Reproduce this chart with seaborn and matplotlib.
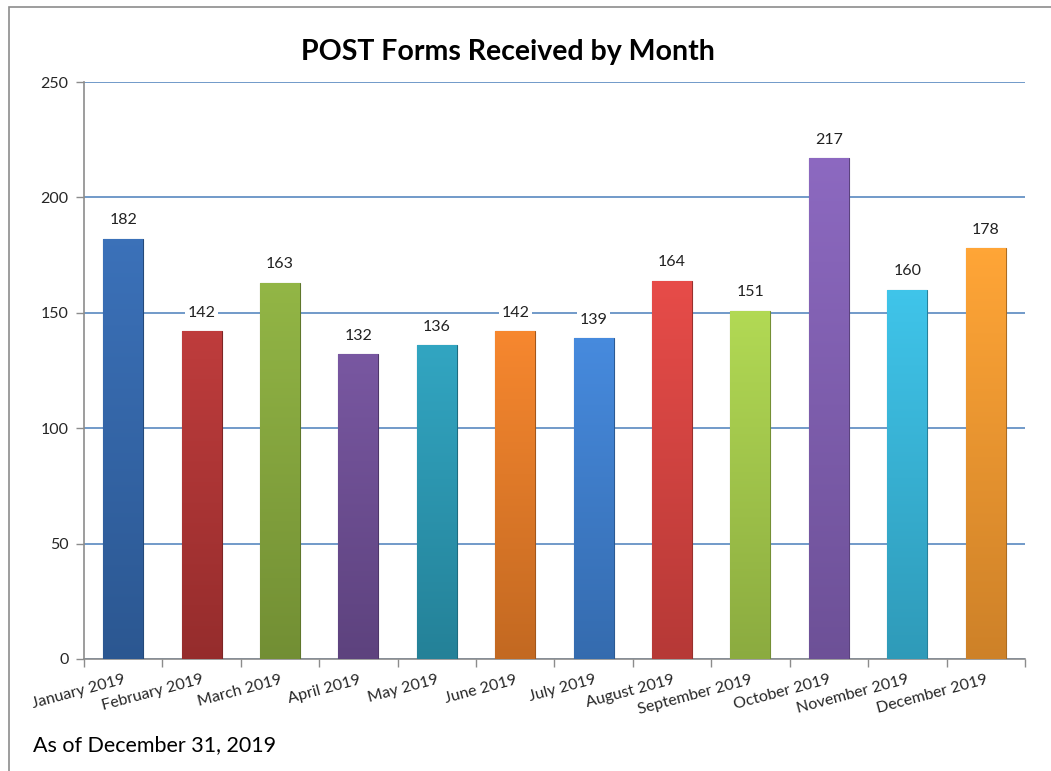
import numpy as np
import pandas as pd
import seaborn as sns
import matplotlib.pyplot as plt
import matplotlib.colors as mcolors
from matplotlib.patches import Rectangle

months = ["January 2019", "February 2019", "March 2019", "April 2019", "May 2019",
          "June 2019", "July 2019", "August 2019", "September 2019", "October 2019",
          "November 2019", "December 2019"]
forms = [182, 142, 163, 132, 136, 142, 139, 164, 151, 217, 160, 178]
bar_colors = ["#3468ad", "#b23535", "#88aa3e", "#6f4f96", "#2b9ab5", "#e87d28",
              "#3f80d0", "#d94441", "#a6cc4c", "#8260b4", "#38b8dc", "#f59a30"]

df = pd.DataFrame({"month": months, "forms": forms})

sns.set_style("white")
plt.rcParams["font.family"] = ["Lato", "DejaVu Sans"]

fig = plt.figure(figsize=(10.51, 7.71), dpi=100)
ax = fig.add_axes([0.0799, 0.1453, 0.8953, 0.7483])

sns.barplot(data=df, x="month", y="forms", hue="month", palette=bar_colors,
            legend=False, width=0.51, ax=ax, zorder=3)

# excel-ish vertical shading inside each bar
for patch, c in zip(ax.patches, bar_colors):
    rgb = np.array(mcolors.to_rgb(c))
    top = np.clip(rgb * 1.04 + 0.02, 0, 1)
    bot = rgb * 0.84
    t = np.linspace(0, 1, 64)[:, None]
    grad = (top * (1 - t) + bot * t)[:, None, :].repeat(8, axis=1)
    x0, y0 = patch.get_x(), patch.get_y()
    w, h = patch.get_width(), patch.get_height()
    im = ax.imshow(grad, extent=[x0, x0 + w, y0, y0 + h], aspect="auto",
                   origin="upper", zorder=3.5, interpolation="bilinear")
    im.set_clip_path(patch)
    patch.set_edgecolor(tuple(rgb * 0.7))
    patch.set_linewidth(0.8)
    ax.text(x0 + w / 2, y0 + h + 8, str(int(h)), ha="center", va="center",
            fontsize=11.5, color="#222222", zorder=5,
            bbox=dict(facecolor="white", edgecolor="none", pad=2))

ax.set_xlim(-0.5, len(months) - 0.5)
ax.set_ylim(0, 250)
ax.set_yticks([0, 50, 100, 150, 200, 250])
ax.yaxis.grid(True, color="#4a7ebb", linewidth=1.1, zorder=0)
ax.set_axisbelow(True)

ax.set_xticks(range(len(months)))
ax.set_xticklabels(months, rotation=15, ha="right", rotation_mode="anchor",
                   fontsize=11.5)
ax.set_xticks(np.arange(-0.5, len(months)), minor=True)
ax.tick_params(axis="x", which="major", length=0, pad=10)
ax.tick_params(axis="x", which="minor", length=6, width=1, color="#8c8c8c",
               direction="out", bottom=True)
ax.tick_params(axis="y", length=6, width=1, color="#8c8c8c", direction="out",
               left=True, labelsize=11.5, pad=5)

for s in ["top", "right"]:
    ax.spines[s].set_visible(False)
for s in ["left", "bottom"]:
    ax.spines[s].set_color("#8c8c8c")
    ax.spines[s].set_linewidth(1.2)

ax.set_xlabel("")
ax.set_ylabel("")

fig.text(0.483, 0.932, "POST Forms Received by Month", ha="center", va="center",
         fontsize=20.5, fontweight="bold", color="black")
fig.text(0.031, 0.034, "As of December 31, 2019", ha="left", va="center",
         fontsize=15.5, color="black")

# chart frame, cut off at right and bottom
fig.patches.append(Rectangle((9 / 1051, -0.1), 1.2, 1 - 7 / 771 + 0.1,
                             transform=fig.transFigure, fill=False,
                             edgecolor="#8c8c8c", linewidth=1.2))

fig.savefig("out.png", dpi=100)
